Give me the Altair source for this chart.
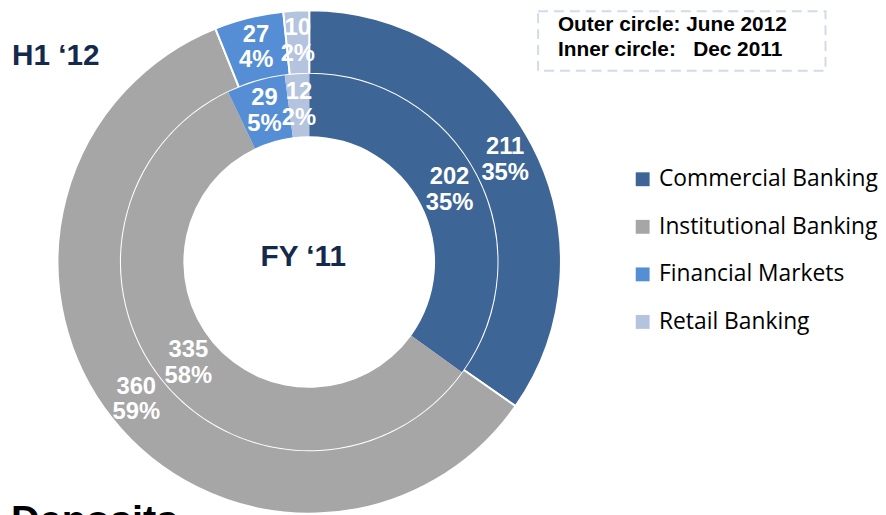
import altair as alt
import pandas as pd

# ---- data ----
segments = ["Commercial Banking", "Institutional Banking", "Financial Markets", "Retail Banking"]
outer_values = [211, 360, 27, 10]   # June 2012 (outer circle)
inner_values = [202, 335, 29, 12]   # Dec 2011 (inner circle)
colors = ["#3D6596", "#A6A6A6", "#558ED5", "#B4C3DE"]

box_lines = ["Outer circle: June 2012", "Inner circle:\u00a0\u00a0 Dec 2011"]
outer_title = "H1 \u201812"
inner_title = "FY \u201811"
bottom_title = "Deposits"

rows = []
for ring, vals in (("outer", outer_values), ("inner", inner_values)):
    for i, (s, v) in enumerate(zip(segments, vals)):
        rows.append({"ring": ring, "segment": s, "value": v, "order": i})
df = pd.DataFrame(rows)

FONT = "Liberation Sans"
CX, CY = 304, 254

base = (
    alt.Chart(df)
    .transform_joinaggregate(total="sum(value)", groupby=["ring"])
    .transform_calculate(label="datum.value + '\\n' + format(datum.value / datum.total, '.0%')")
)

color = alt.Color(
    "segment:N",
    scale=alt.Scale(domain=segments, range=colors),
    sort=segments,
    legend=alt.Legend(
        title=None,
        orient="none",
        legendX=629,
        legendY=159,
        symbolType="square",
        symbolSize=196,
        symbolStrokeWidth=0,
        labelFont="Open Sans",
        labelFontSize=23,
        labelColor="#000000",
        labelOffset=5,
        rowPadding=24,
        labelLimit=400,
    ),
)
theta = alt.Theta("value:Q", stack="normalize")
order = alt.Order("order:O", sort="ascending")


def ring_layers(ring, r_out, r_in, stroke_w, r_lab):
    d = base.transform_filter(f"datum.ring == '{ring}'")
    arc = d.mark_arc(radius=r_out, radius2=r_in, stroke="white", strokeWidth=stroke_w).encode(
        theta=theta, color=color, order=order, x=alt.value(CX), y=alt.value(CY)
    )
    txt = d.mark_text(
        radius=r_lab,
        font=FONT,
        fontSize=24,
        fontWeight="bold",
        color="white",
        lineBreak="\n",
        lineHeight=26,
        align="center",
        baseline="middle",
        dy=-13,
    ).encode(theta=theta, order=order, text="label:N", x=alt.value(CX), y=alt.value(CY))
    return [arc, txt]


layers = ring_layers("outer", 254, 190, 2, 223) + ring_layers("inner", 190, 127, 0, 159)

one = pd.DataFrame({"k": [0]})

box = alt.Chart(one).mark_rect(
    fillOpacity=0, stroke="#D3DBE8", strokeWidth=2, strokeDash=[10, 6]
).encode(x=alt.value(535), x2=alt.value(825), y=alt.value(1), y2=alt.value(61))


def label_text(t, x, y, size, color_, align="left", baseline="middle"):
    return alt.Chart(pd.DataFrame({"t": [t]})).mark_text(
        font=FONT, fontSize=size, fontWeight="bold", color=color_, align=align, baseline=baseline
    ).encode(x=alt.value(x), y=alt.value(y), text="t:N")


box_l1 = label_text(box_lines[0], 555, 15, 21, "#000000")
box_l2 = label_text(box_lines[1], 555, 40, 21, "#000000")
h1 = label_text(outer_title, 4, 46, 30, "#142A4C")
fy = label_text(inner_title, 298, 249, 30, "#142A4C", align="center")
dep = label_text(bottom_title, 3, 527, 40, "#000000", baseline="alphabetic")

chart = (
    alt.layer(*layers, box, box_l1, box_l2, h1, fy, dep)
    .properties(width=878, height=507, padding=0, autosize=alt.AutoSizeParams(type="none"))
    .configure_view(stroke=None)
)

chart.save("out.html", embed_options={"renderer": "svg", "actions": False})
